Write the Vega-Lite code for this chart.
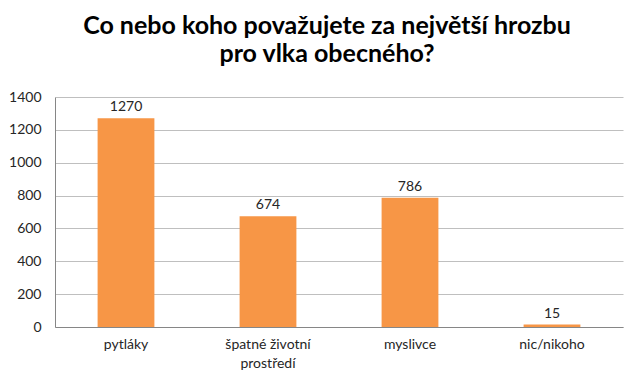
{
  "$schema": "https://vega.github.io/schema/vega-lite/v6.json",
  "autosize": {"type": "none"},
  "width": 568,
  "height": 230,
  "padding": {"left": 55, "top": 97, "right": 17, "bottom": 57},
  "background": "white",
  "title": {
    "text": ["Co nebo koho považujete za největší hrozbu", "pro vlka obecného?"],
    "font": "Lato",
    "fontSize": 25,
    "fontWeight": "bold",
    "color": "#000000",
    "anchor": "middle",
    "dx": -12,
    "lineHeight": 28,
    "offset": 23
  },
  "data": {
    "values": [
      {"kategorie": "pytláky", "pocet": 1270},
      {"kategorie": "špatné životní prostředí", "pocet": 674},
      {"kategorie": "myslivce", "pocet": 786},
      {"kategorie": "nic/nikoho", "pocet": 15}
    ]
  },
  "encoding": {
    "x": {
      "field": "kategorie",
      "type": "nominal",
      "sort": null,
      "scale": {"paddingInner": 0.6, "paddingOuter": 0.3},
      "axis": {
        "title": null,
        "labelAngle": 0,
        "labelFont": "Lato",
        "labelFontSize": 14,
        "labelColor": "#262626",
        "labelPadding": 10,
        "labelLineHeight": 19,
        "ticks": false,
        "domainColor": "#868686",
        "labelExpr": "datum.label == 'špatné životní prostředí' ? ['špatné životní', 'prostředí'] : datum.label"
      }
    },
    "y": {
      "field": "pocet",
      "type": "quantitative",
      "scale": {"domain": [0, 1400]},
      "axis": {
        "title": null,
        "format": "d",
        "values": [0, 200, 400, 600, 800, 1000, 1200, 1400],
        "labelFont": "Lato",
        "labelFontSize": 14,
        "labelColor": "#262626",
        "labelPadding": 14,
        "ticks": false,
        "domain": true,
        "domainColor": "#868686",
        "gridColor": "#BFBFBF",
        "gridWidth": 1
      }
    }
  },
  "layer": [
    {"mark": {"type": "bar", "color": "#F79646"}},
    {
      "mark": {"type": "text", "dy": -11, "font": "Lato", "fontSize": 14, "color": "#262626"},
      "encoding": {"text": {"field": "pocet", "type": "quantitative"}}
    }
  ],
  "config": {"view": {"stroke": null}}
}
